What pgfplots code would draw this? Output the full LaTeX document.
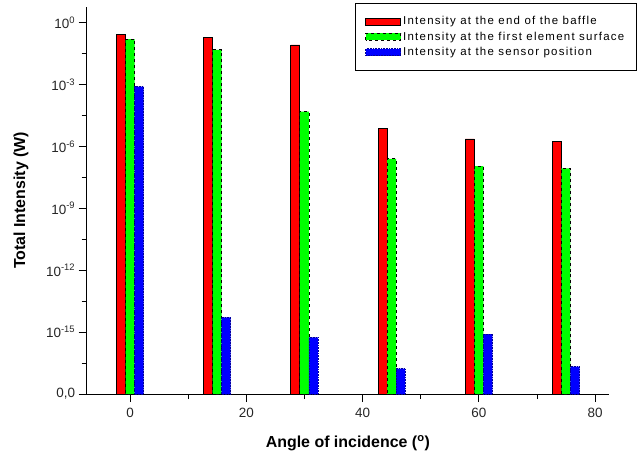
\documentclass[border=0pt]{standalone}
\usepackage{fontspec}
\setmainfont{Liberation Sans}
\newfontfamily\legfont[LetterSpace=11]{Liberation Sans}
\usepackage{pgfplots}
\pgfplotsset{compat=1.18}
\definecolor{cred}{RGB}{255,0,0}
\definecolor{cgreen}{RGB}{0,255,0}
\definecolor{cblue}{RGB}{0,0,255}
\pgfplotsset{mylegend/.style={legend image code/.code={\draw[##1] (0bp,-3.5bp) rectangle (35bp,3.5bp);}}}
\begin{document}
\begin{tikzpicture}
\useasboundingbox (-86.7bp,-63bp) rectangle (551.3bp,394bp);
\begin{axis}[
  at={(0,0)}, anchor=south west,
  scale only axis, width=522.3bp, height=387bp,
  ymode=log, log origin y=infty,
  ymin=1e-18, ymax=5.75,
  xmin=-7.45, xmax=82.4,
  axis lines*=left, axis line style={-, line width=0.8pt},
  tick align=outside,
  major tick length=8bp, minor tick length=5bp,
  tick style={black, line width=0.8pt},
  xtick={0,20,40,60,80}, minor xtick={10,30,50,70},
  ytick={1e-18,1e-15,1e-12,1e-9,1e-6,1e-3,1},
  yticklabels={{0,0},{10\textsuperscript{-15}},{10\textsuperscript{-12}},{10\textsuperscript{-9}},{10\textsuperscript{-6}},{10\textsuperscript{-3}},{10\textsuperscript{0}}},
  minor ytick={3.162e-17,3.162e-14,3.162e-11,3.162e-8,3.162e-5,3.162e-2},
  /pgf/number format/assume math mode=true,
  tick label style={font=\fontsize{13.5}{16}\selectfont, text=black!85},
  xticklabel style={yshift=-3bp},
  xlabel={\bfseries Angle of incidence (\textsuperscript{o})},
  ylabel={\bfseries Total Intensity (W)},
  label style={font=\fontsize{16}{19}\selectfont},
  xlabel style={at={(rel axis cs:0.5,0)}, anchor=center, yshift=-49bp},
  ylabel style={at={(rel axis cs:0,0.5)}, anchor=center, yshift=65.7bp},
  legend style={at={(rel axis cs:1.053,1.011)}, anchor=north east, draw=black, line width=0.8pt,
    font=\legfont\fontsize{11.5}{13}\selectfont, row sep=1.5bp, inner xsep=10bp, inner ysep=11.5bp},
  legend cell align=left,
]
\addplot[ybar, mylegend, bar width=1.55, bar shift=-1.55, fill=cred, draw=black, line width=0.8pt]
  coordinates {(0,0.269) (15,0.186) (30,0.083) (45,7.1e-6) (60,2.3e-6) (75,1.8e-6)};
\addlegendentry{Intensity at the end of the baffle}
\addplot[ybar, mylegend, bar width=1.55, bar shift=0, fill=cgreen, draw=black, dashed, line width=0.8pt]
  coordinates {(0,0.158) (15,0.048) (30,4.9e-5) (45,2.5e-7) (60,1.1e-7) (75,8.7e-8)};
\addlegendentry{Intensity at the first element surface}
\addplot[ybar, mylegend, bar width=1.55, bar shift=1.55, fill=cblue, draw=cblue!60!black, densely dotted, line width=0.6pt]
  coordinates {(0,7.9e-4) (15,5.2e-15) (30,5.6e-16) (45,1.7e-17) (60,8.1e-16) (75,2.1e-17)};
\addlegendentry{Intensity at the sensor position}
\end{axis}
\end{tikzpicture}
\end{document}
